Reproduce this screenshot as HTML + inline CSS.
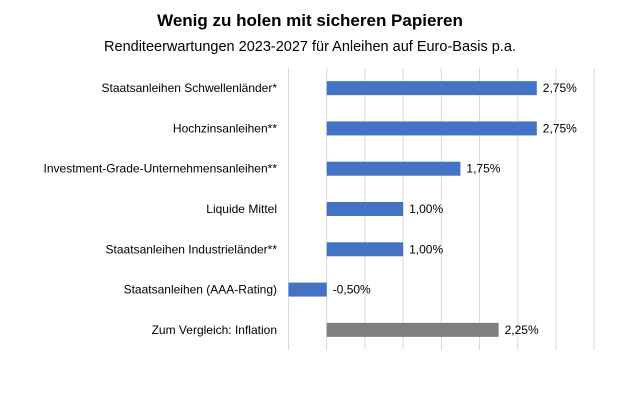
<!DOCTYPE html>
<html><head><meta charset="utf-8"><style>
body{margin:0;background:#fff;font-family:"Liberation Sans",sans-serif;}
svg text{font-family:"Liberation Sans",sans-serif;}
</style></head><body>
<svg width="620" height="413">
<text x="310" y="26" text-anchor="middle" font-size="17" font-weight="bold" fill="#000">Wenig zu holen mit sicheren Papieren</text>
<text x="310" y="51" text-anchor="middle" font-size="14.5" fill="#000">Renditeerwartungen 2023-2027 für Anleihen auf Euro-Basis p.a.</text>
<g id="grid"></g>
<g id="bars"></g>
</svg>
<script>
const categories=["Staatsanleihen Schwellenländer*","Hochzinsanleihen**","Investment-Grade-Unternehmensanleihen**","Liquide Mittel","Staatsanleihen Industrieländer**","Staatsanleihen (AAA-Rating)","Zum Vergleich: Inflation"];
const values=[2.75,2.75,1.75,1.00,1.00,-0.50,2.25];
const valueLabels=["2,75%","2,75%","1,75%","1,00%","1,00%","-0,50%","2,25%"];
const gridTicks=[-0.5,0,0.5,1,1.5,2,2.5,3,3.5];
const NS="http://www.w3.org/2000/svg";
const x0=326.7,unit=76.4,plotTop=68,plotBottom=350;
const bandH=(plotBottom-plotTop)/categories.length;
function xs(v){return x0+v*unit;}
function yc(i){return plotTop+bandH*(i+0.5);}
const g=document.getElementById('grid'),b=document.getElementById('bars');
gridTicks.forEach(t=>{const l=document.createElementNS(NS,'line');


l.setAttribute('x1',xs(t));l.setAttribute('x2',xs(t));l.setAttribute('y1',plotTop);l.setAttribute('y2',plotBottom);
l.setAttribute('stroke','#d9d9d9');l.setAttribute('stroke-width','1');g.appendChild(l);});
categories.forEach((c,i)=>{const v=values[i],y=yc(i);
const r=document.createElementNS(NS,'rect');


r.setAttribute('x',Math.min(xs(0),xs(v)));r.setAttribute('width',Math.abs(xs(v)-xs(0)));
r.setAttribute('y',y-7);r.setAttribute('height',14);
r.setAttribute('fill',i==categories.length-1?'#7f7f7f':'#4472c4');b.appendChild(r);
const t=document.createElementNS(NS,'text');


t.setAttribute('x',277);t.setAttribute('y',y+4);t.setAttribute('text-anchor','end');t.setAttribute('font-size','12');
t.textContent=c;b.appendChild(t);
const vl=document.createElementNS(NS,'text');


vl.setAttribute('x',Math.max(xs(v),xs(0))+6);vl.setAttribute('y',y+4);vl.setAttribute('font-size','12');
vl.textContent=valueLabels[i];b.appendChild(vl);});
</script>
</body></html>
